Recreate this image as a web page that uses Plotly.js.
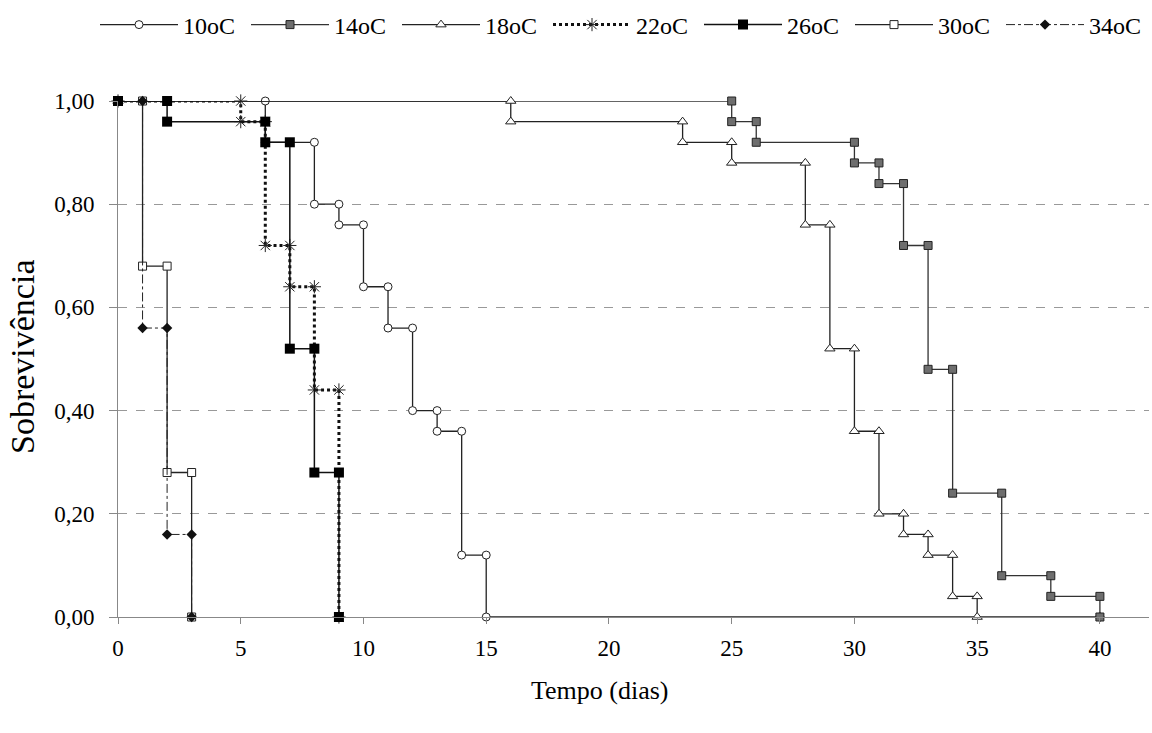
<!DOCTYPE html>
<html>
<head>
<meta charset="utf-8">
<script src="https://cdn.plot.ly/plotly-3.0.1.min.js"></script>
<style>html,body{margin:0;padding:0;background:#fff;}#chart{width:1152px;height:733px;}</style>
</head>
<body>
<div id="chart"></div>
<script>
// Survival data: event days and survival proportion after each event
const seriesNames = ["10oC", "14oC", "18oC", "22oC", "26oC", "30oC", "34oC"];
const days10 = [0, 6, 8, 9, 10, 11, 12, 13, 14, 15, 40];
const surv10 = [1.00, 0.92, 0.80, 0.76, 0.64, 0.56, 0.40, 0.36, 0.12, 0.00, 0.00];
const days14 = [0, 25, 26, 30, 31, 32, 33, 34, 36, 38, 40];
const surv14 = [1.00, 0.96, 0.92, 0.88, 0.84, 0.72, 0.48, 0.24, 0.08, 0.04, 0.00];
const days18 = [0, 16, 23, 25, 28, 29, 30, 31, 32, 33, 34, 35];
const surv18 = [1.00, 0.96, 0.92, 0.88, 0.76, 0.52, 0.36, 0.20, 0.16, 0.12, 0.04, 0.00];
const days22 = [0, 5, 6, 7, 8, 9];
const surv22 = [1.00, 0.96, 0.72, 0.64, 0.44, 0.00];
const days26 = [0, 2, 6, 7, 8, 9];
const surv26 = [1.00, 0.96, 0.92, 0.52, 0.28, 0.00];
const days30 = [0, 1, 2, 3];
const surv30 = [1.00, 0.68, 0.28, 0.00];
const days34 = [0, 1, 2, 3];
const surv34 = [1.00, 0.56, 0.16, 0.00];
const xTicks = [0, 5, 10, 15, 20, 25, 30, 35, 40];
const yTicks = [0, 0.2, 0.4, 0.6, 0.8, 1.0];
const yTickText = ["0,00", "0,20", "0,40", "0,60", "0,80", "1,00"];

function stepData(days, surv) {
  const x = [days[0]], y = [surv[0]];
  for (let i = 1; i < days.length; i++) {
    x.push(days[i]); y.push(surv[i - 1]);
    x.push(days[i]); y.push(surv[i]);
  }
  return {x, y};
}

const FONT = "Times New Roman, Liberation Serif, serif";
function tr(name, days, surv, line, marker, rank) {
  const d = stepData(days, surv);
  return {
    type: "scatter", mode: "lines+markers", name: name,
    x: d.x, y: d.y, line: line, marker: marker,
    cliponaxis: false, legendrank: rank, hoverinfo: "x+y"
  };
}

const traces = [
  tr(seriesNames[0], days10, surv10, {color: "#222", width: 1.3},
     {symbol: "circle", size: 8, color: "#fff", line: {color: "#222", width: 1}}, 1),
  tr(seriesNames[1], days14, surv14, {color: "#333", width: 1.3},
     {symbol: "square", size: 8, color: "#6e6e6e", line: {color: "#222", width: 1}}, 2),
  tr(seriesNames[2], days18, surv18, {color: "#222", width: 1.3},
     {symbol: "triangle-up", size: 9, color: "#fff", line: {color: "#222", width: 1}}, 3),
  tr(seriesNames[3], days22, surv22, {color: "#111", width: 3, dash: "dot"},
     {symbol: "asterisk-open", size: 11, color: "#222", line: {color: "#222", width: 1}}, 4),
  tr(seriesNames[5], days30, surv30, {color: "#222", width: 1.3},
     {symbol: "square", size: 8, color: "#fff", line: {color: "#222", width: 1}}, 6),
  tr(seriesNames[6], days34, surv34, {color: "#222", width: 1, dash: "dashdot"},
     {symbol: "diamond", size: 8, color: "#111", line: {color: "#111", width: 0}}, 7),
  tr(seriesNames[4], days26, surv26, {color: "#111", width: 1.5},
     {symbol: "square", size: 10, color: "#000", line: {color: "#000", width: 0}}, 5)
];

const plotW = 1149 - 118, plotH = 617 - 101;
const layout = {
  width: 1152, height: 733,
  paper_bgcolor: "#fff", plot_bgcolor: "#fff",
  font: {family: FONT, color: "#000", size: 22},
  margin: {l: 118, r: 3, t: 101, b: 116},
  showlegend: true,
  legend: {
    orientation: "h", xref: "paper", yref: "paper",
    x: (101 - 118) / plotW, xanchor: "left",
    y: 1 + (101 - 25) / plotH, yanchor: "middle",
    font: {family: FONT, size: 24, color: "#000"},
    itemwidth: 78, entrywidth: 58, entrywidthmode: "pixels",
    traceorder: "normal", bgcolor: "rgba(0,0,0,0)"
  },
  xaxis: {
    range: [0, 42], tickvals: xTicks, ticktext: xTicks.map(String),
    showgrid: false, zeroline: false,
    showline: true, linecolor: "#888", linewidth: 1,
    ticks: "outside", ticklen: 6, tickcolor: "#888", tickwidth: 1,
    tickfont: {family: FONT, size: 23, color: "#000"},
    ticklabelstandoff: 4, fixedrange: true
  },
  yaxis: {
    range: [0, 1], tickvals: yTicks, ticktext: yTickText,
    showgrid: true, gridcolor: "#999", griddash: "dash", gridwidth: 1,
    zeroline: false,
    showline: true, linecolor: "#888", linewidth: 1,
    ticks: "outside", ticklen: 8, tickcolor: "#888", tickwidth: 1,
    tickfont: {family: FONT, size: 23, color: "#000"},
    ticklabelstandoff: 10, fixedrange: true
  },
  annotations: [
    {text: "Tempo (dias)", xref: "paper", yref: "paper",
     x: (600 - 118) / plotW, y: -(690 - 617) / plotH,
     xanchor: "center", yanchor: "middle", showarrow: false,
     font: {family: FONT, size: 26, color: "#000"}},
    {text: "Sobrevivência", xref: "paper", yref: "paper",
     x: -(118 - 22) / plotW, y: (617 - 357) / plotH,
     xanchor: "center", yanchor: "middle", textangle: -90, showarrow: false,
     font: {family: FONT, size: 34, color: "#000"}}
  ]
};

Plotly.newPlot("chart", traces, layout, {displayModeBar: false, staticPlot: true});
</script>
</body>
</html>
